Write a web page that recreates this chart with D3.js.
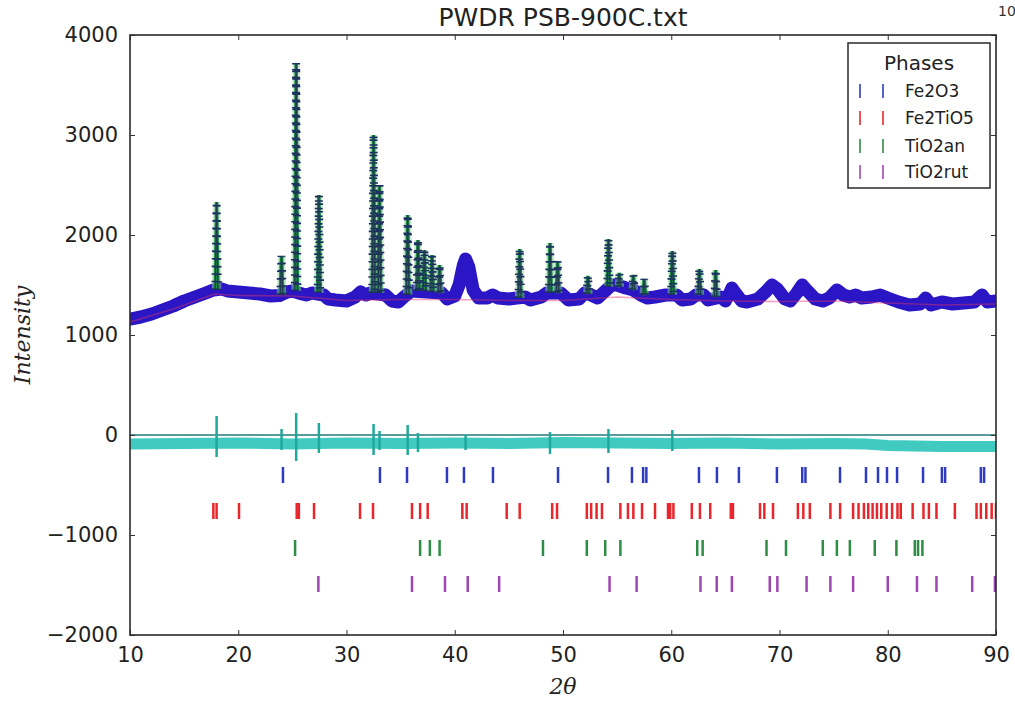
<!DOCTYPE html>
<html><head><meta charset="utf-8">
<script src="https://cdn.jsdelivr.net/npm/d3@7"></script>
<style>body{margin:0;background:#fff;} svg{display:block;}</style>
</head><body>
<svg id="chart" width="1015" height="710"></svg>
<script>
// ---------------- data ----------------
const chartTitle = "PWDR PSB-900C.txt";
const xTicks = [10, 20, 30, 40, 50, 60, 70, 80, 90];
const yTicks = [-2000, -1000, 0, 1000, 2000, 3000, 4000];

// observed profile (baseline + broad humps), 2θ / intensity
const obsX = [10,11,12,13,14,15,16,17,17.7,18.5,19,20,21,22,23,23.8,24.5,25,25.9,26.3,26.8,27.9,28.3,29,30,30.8,31.3,31.8,32.2,33.6,34.2,34.8,35.3,36,38.8,39.3,40,40.4,40.8,41.0,41.3,41.7,42.2,43,43.5,44,45,46.5,47,48,48.5,49.8,50.5,51.5,52,52.6,53.2,53.7,54.5,55,55.8,56.5,57.2,57.8,58.5,59.5,60.5,61,61.8,62.3,63,63.4,64.6,65,65.4,65.6,66,66.5,67,68,68.8,69.3,69.8,70.5,71,71.6,72.1,72.6,73.3,74,74.6,75.3,75.9,76.5,77,77.6,78.5,79.3,80,81,82,83,83.5,84,85,86,87,88,88.7,89.2,90];
const obsY = [1160,1180,1210,1250,1290,1340,1380,1420,1450,1460,1440,1430,1420,1410,1390,1395,1430,1440,1410,1400,1420,1400,1360,1350,1340,1380,1430,1400,1420,1400,1340,1330,1380,1440,1420,1360,1390,1500,1700,1760,1680,1450,1370,1370,1400,1370,1360,1380,1350,1380,1420,1420,1350,1360,1420,1400,1370,1420,1500,1500,1470,1450,1400,1370,1380,1400,1400,1350,1360,1400,1400,1350,1380,1340,1420,1470,1410,1340,1330,1360,1440,1500,1460,1360,1340,1420,1500,1440,1360,1340,1370,1450,1400,1380,1400,1370,1380,1400,1370,1330,1300,1310,1370,1300,1330,1310,1320,1330,1400,1330,1340];

// sharp Bragg peaks: position, base intensity, top intensity
const peakPos  = [18.0, 24.0, 25.35, 27.45, 32.5, 33.05, 35.65, 36.6, 37.2, 37.9, 38.6, 46.0, 48.8, 49.5, 52.3, 54.2, 55.2, 56.5, 57.5, 60.1, 62.6, 64.1];
const peakBase = [1450, 1400, 1440, 1420, 1420, 1420, 1400, 1440, 1440, 1430, 1420, 1370, 1420, 1420, 1410, 1480, 1480, 1450, 1400, 1400, 1400, 1380];
const peakTop  = [2330, 1790, 3720, 2400, 3000, 2500, 2200, 1950, 1850, 1800, 1700, 1860, 1920, 1740, 1590, 1960, 1620, 1600, 1560, 1840, 1660, 1650];

// background curve
const bgX = [10, 14, 17.8, 20, 25, 30, 35, 40, 45, 50, 55, 60, 65, 70, 75, 80, 85, 90];
const bgY = [1130, 1260, 1410, 1395, 1390, 1345, 1355, 1355, 1345, 1345, 1380, 1355, 1340, 1335, 1340, 1320, 1300, 1310];

// difference curve (offset) and its spikes
const diffX = [10, 15, 20, 25, 30, 35, 40, 45, 50, 55, 60, 65, 70, 75, 78, 80, 85, 90];
const diffY = [-90, -85, -80, -90, -80, -85, -80, -85, -75, -80, -85, -80, -90, -85, -90, -105, -115, -115];
const diffSpikePos = [18.0, 24.0, 25.35, 27.45, 32.5, 33.05, 35.65, 36.6, 41.0, 48.8, 54.2, 60.1];
const diffSpikeHi  = [190, 60, 220, 120, 110, 40, 100, 20, 0, 30, 60, 50];
const diffSpikeLo  = [-220, -150, -260, -180, -200, -150, -200, -170, -150, -190, -180, -160];

// reflection markers per phase
const phaseNames   = ["Fe2O3", "Fe2TiO5", "TiO2an", "TiO2rut"];
const phaseOffsets = [-400, -760, -1130, -1490];
const reflFe2O3   = [24.13, 33.09, 35.59, 39.28, 40.85, 43.53, 49.54, 54.16, 56.37, 57.4, 57.7, 62.56, 64.22, 66.25, 69.76, 72.1, 72.4, 75.59, 77.99, 79.1, 79.93, 80.86, 83.26, 85.0, 85.3, 88.6, 88.9];
const reflFe2TiO5 = [17.7, 18.0, 20.07, 25.4, 25.6, 27.0, 31.25, 32.45, 36.05, 36.8, 37.5, 40.7, 41.1, 44.8, 46.0, 49.0, 49.45, 52.2, 52.6, 53.1, 53.6, 55.3, 56.0, 56.5, 57.3, 58.5, 59.7, 59.9, 60.2, 61.9, 62.65, 63.6, 65.5, 65.7, 68.2, 68.6, 69.4, 71.7, 72.2, 72.8, 74.7, 75.6, 76.8, 77.3, 77.8, 78.2, 78.6, 79.0, 79.4, 79.9, 80.4, 80.9, 81.2, 82.3, 83.3, 83.8, 84.5, 86.2, 88.2, 88.6, 89.1, 89.6, 90.0];
const reflTiO2an  = [25.25, 36.8, 37.7, 38.6, 48.15, 52.2, 53.9, 55.3, 62.4, 62.9, 68.8, 70.6, 74.0, 75.3, 76.5, 78.8, 80.8, 82.5, 82.8, 83.2];
const reflTiO2rut = [27.4, 36.05, 39.1, 41.2, 44.1, 54.3, 56.8, 62.7, 64.2, 65.6, 69.1, 69.8, 72.5, 74.7, 76.8, 80.0, 82.7, 84.5, 87.8, 89.9];
const phaseColors = ["#2f3bbf", "#e8262b", "#2f8c45", "#a046b4"];

// ---------------- drawing ----------------
const svg = d3.select("#chart");
const L = 130, R = 996, T = 35, B = 635;
const x = d3.scaleLinear().domain([10, 90]).range([L, R]);
const y = d3.scaleLinear().domain([-2000, 4000]).range([B, T]);
const line = d3.line().x(d => x(d[0])).y(d => y(d[1]));

const plot = svg.append("g");
plot.append("clipPath").attr("id", "clip").append("rect")
  .attr("x", L).attr("y", T).attr("width", R - L).attr("height", B - T);
const g = plot.append("g").attr("clip-path", "url(#clip)");

// observed band
const obsPts = obsX.map((v, i) => [v, obsY[i]]);
g.append("path").datum(obsPts).attr("d", line)
  .attr("fill", "none").attr("stroke", "#2a16c4").attr("stroke-width", 13)
  .attr("stroke-linejoin", "round").attr("stroke-linecap", "round");

// background
g.append("path").datum(bgX.map((v, i) => [v, bgY[i]])).attr("d", line)
  .attr("fill", "none").attr("stroke", "#e0306a").attr("stroke-opacity", 0.45).attr("stroke-width", 1.6);

// peaks: calc (green) + obs markers
const peakPts = peakPos.map((p, i) => [[p - 0.12, peakBase[i]], [p, peakTop[i]], [p + 0.12, peakBase[i]]]);
g.selectAll("path.pkglow").data(peakPts).join("path").attr("class", "pkglow").attr("d", line)
  .attr("fill", "none").attr("stroke", "#8fd6a0").attr("stroke-opacity", 0.5).attr("stroke-width", 7);
g.selectAll("path.pkcalc").data(peakPts).join("path").attr("class", "pkcalc").attr("d", line)
  .attr("fill", "none").attr("stroke", "#1f8a45").attr("stroke-width", 3.5);
g.selectAll("path.pkobs").data(peakPts).join("path").attr("class", "pkobs").attr("d", line)
  .attr("fill", "none").attr("stroke", "#1d2e66").attr("stroke-width", 8)
  .attr("stroke-dasharray", "1.6 6");
g.selectAll("path.pkc").data(peakPts).join("path").attr("class", "pkc").attr("d", line)
  .attr("fill", "none").attr("stroke", "#203a50").attr("stroke-width", 1.2);

// difference
g.append("line").attr("x1", L).attr("x2", R).attr("y1", y(0)).attr("y2", y(0))
  .attr("stroke", "#1f7a78").attr("stroke-width", 1.5);
g.append("path").datum(diffX.map((v, i) => [v, diffY[i]])).attr("d", line)
  .attr("fill", "none").attr("stroke", "#2cc4b8").attr("stroke-width", 11).attr("stroke-opacity", 0.9);
g.selectAll("line.dsp").data(diffSpikePos).join("line").attr("class", "dsp")
  .attr("x1", d => x(d)).attr("x2", d => x(d))
  .attr("y1", (d, i) => y(diffSpikeHi[i])).attr("y2", (d, i) => y(diffSpikeLo[i]))
  .attr("stroke", "#1fa89c").attr("stroke-width", 2.5);

// reflection markers
const reflLists = [reflFe2O3, reflFe2TiO5, reflTiO2an, reflTiO2rut];
reflLists.forEach((list, k) => {
  g.selectAll("line.rf" + k).data(list).join("line").attr("class", "rf" + k)
    .attr("x1", d => x(d)).attr("x2", d => x(d))
    .attr("y1", y(phaseOffsets[k]) - 8).attr("y2", y(phaseOffsets[k]) + 8)
    .attr("stroke", phaseColors[k]).attr("stroke-width", 2.5);
});

// axes
const fnt = "DejaVu Sans, sans-serif";
const fmt = d3.format("d");
const axB = svg.append("g").attr("transform", `translate(0,${B})`)
  .call(d3.axisBottom(x).tickValues(xTicks).tickFormat(fmt).tickSizeInner(-5).tickSizeOuter(0).tickPadding(12));
const axL = svg.append("g").attr("transform", `translate(${L},0)`)
  .call(d3.axisLeft(y).tickValues(yTicks).tickFormat(fmt).tickSizeInner(-5).tickSizeOuter(0).tickPadding(12));
const axT = svg.append("g").attr("transform", `translate(0,${T})`)
  .call(d3.axisTop(x).tickValues(xTicks).tickFormat("").tickSizeInner(-5).tickSizeOuter(0));
const axR = svg.append("g").attr("transform", `translate(${R},0)`)
  .call(d3.axisRight(y).tickValues(yTicks).tickFormat("").tickSizeInner(-5).tickSizeOuter(0));
[axB, axL, axT, axR].forEach(a => {
  a.select(".domain").remove();
  a.selectAll(".tick line").attr("stroke", "#333").attr("stroke-width", 1);
  a.selectAll("text").attr("font-family", fnt).attr("font-size", 21).attr("fill", "#222");
});
svg.append("rect").attr("x", L).attr("y", T).attr("width", R - L).attr("height", B - T)
  .attr("fill", "none").attr("stroke", "#2a2a2a").attr("stroke-width", 1.6);

// titles / labels
svg.append("text").attr("x", (L + R) / 2).attr("y", 26).attr("text-anchor", "middle")
  .attr("font-family", fnt).attr("font-size", 25).attr("fill", "#222").text(chartTitle);
svg.append("text").attr("x", 998).attr("y", 16).attr("font-family", fnt).attr("font-size", 14)
  .attr("fill", "#333").text("10");
svg.append("text").attr("transform", "translate(30,335) rotate(-90)").attr("text-anchor", "middle")
  .attr("font-family", "DejaVu Serif, serif").attr("font-style", "italic").attr("font-size", 22)
  .attr("fill", "#222").text("Intensity");
svg.append("text").attr("x", (L + R) / 2).attr("y", 694).attr("text-anchor", "middle")
  .attr("font-family", "DejaVu Serif, serif").attr("font-style", "italic").attr("font-size", 22)
  .attr("fill", "#222").text("2θ");

// legend
const lg = svg.append("g");
lg.append("rect").attr("x", 848).attr("y", 43).attr("width", 142).attr("height", 145)
  .attr("fill", "#fff").attr("stroke", "#2a2a2a").attr("stroke-width", 1.5);
lg.append("text").attr("x", 919).attr("y", 70).attr("text-anchor", "middle")
  .attr("font-family", fnt).attr("font-size", 20).attr("fill", "#222").text("Phases");
const lgY = [97, 124, 152, 178];
phaseNames.forEach((nm, k) => {
  [860, 883].forEach(mx => {
    lg.append("line").attr("x1", mx).attr("x2", mx).attr("y1", lgY[k] - 13).attr("y2", lgY[k] + 1)
      .attr("stroke", phaseColors[k]).attr("stroke-width", 2).attr("stroke-opacity", 0.8);
  });
  lg.append("text").attr("x", 905).attr("y", lgY[k]).attr("font-family", fnt).attr("font-size", 17)
    .attr("fill", "#222").text(nm);
});
</script>
</body></html>
